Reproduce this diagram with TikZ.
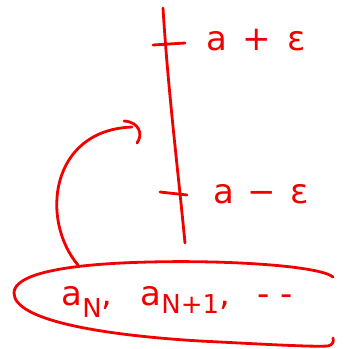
\documentclass[tikz,border=0pt]{standalone}
\usepackage{fontspec}
\setmainfont{DejaVu Sans}
\begin{document}
\begin{tikzpicture}[x=1pt,y=-1pt,
  ink/.style={draw=red!95!black, line width=2.8pt, line cap=round, line join=round},
  lbl/.style={text=red!95!black, font=\fontsize{34}{40}\selectfont, inner sep=0pt, anchor=center}]
\useasboundingbox (0,0) rectangle (346,349);
% vertical axis
\coordinate (axtop) at (163,8);
\coordinate (axbot) at (185,243);
\draw[ink] (axtop) .. controls (168,90) and (178,170) .. (axbot);
% ticks
\coordinate (t1a) at (153,45); \coordinate (t1b) at (185,43);
\coordinate (t2a) at (160,192); \coordinate (t2b) at (187,195);
\draw[ink] (t1a) -- (t1b);
\draw[ink] (t2a) -- (t2b);
% labels
\node[lbl] (up) at (256,40) {a\hspace*{16pt}+\hspace*{16pt}ε};
\node[lbl] (lo) at (261,194) {a\hspace*{14pt}−\hspace*{14pt}ε};
% set
\node[lbl] (set) at (177,302) {a\raisebox{-12pt}{\fontsize{26}{28}\selectfont N},\hspace*{28pt}a\raisebox{-8pt}{\fontsize{26}{28}\selectfont N+1},\hspace*{28pt}-\hspace*{10pt}-};
\draw[ink] (333,277) .. controls (320,266) and (230,260) .. (150,262)
  .. controls (60,264) and (14,275) .. (14,293)
  .. controls (14,320) and (100,335) .. (200,341)
  .. controls (260,344) and (310,347) .. (328,346)
  .. controls (333,345) and (334,341) .. (333,338);
% curved arrow
\coordinate (cs) at (78,265);
\coordinate (ce) at (132,127);
\draw[ink] (cs) .. controls (40,220) and (50,130) .. (ce);
\draw[ink] (124,121) .. controls (140,122) and (143,135) .. (137,143);
\end{tikzpicture}
\end{document}
